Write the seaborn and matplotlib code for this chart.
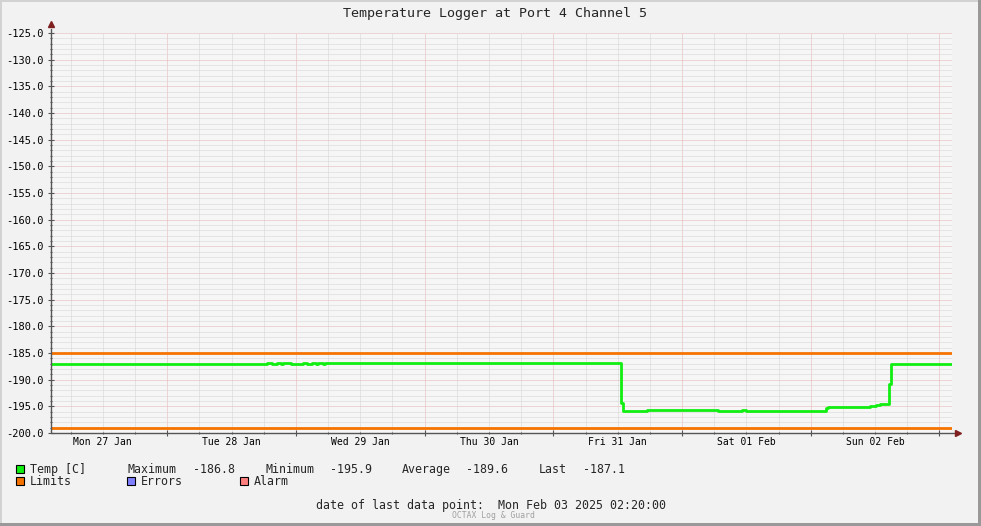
import pandas as pd
import matplotlib
matplotlib.use("Agg")
import matplotlib.pyplot as plt
import matplotlib.dates as mdates
from matplotlib.patches import Rectangle
from matplotlib.ticker import MultipleLocator, FuncFormatter, NullFormatter
import seaborn as sns

# data (hours after start, temperature in C)
start_time = "2025-01-27 02:20"
end_time = "2025-02-03 02:20"
hours = [0, 40.3, 41.2, 42.1, 42.9, 43.3, 44.8, 47.0, 47.7, 48.7, 49.4, 49.8,
         50.7, 51.1, 52.4, 106.2, 106.6, 111.1, 124.3, 128.8, 129.6, 144.5,
         144.9, 145.6, 152.7, 153.8, 154.6, 156.3, 156.6, 163.0, 168.0]
temp = [-187.0, -186.8, -187.0, -186.8, -187.0, -186.8, -187.0, -186.8,
        -187.0, -186.8, -187.0, -186.8, -187.0, -186.8, -186.9, -194.3,
        -195.9, -195.7, -195.9, -195.7, -195.9, -195.4, -195.1, -195.2,
        -195.0, -194.8, -194.5, -190.9, -187.1, -187.0, -187.0]
limits = [-185.0, -199.0]

stats_names = ["Maximum", "Minimum", "Average", "Last"]
stats_values = ["-186.8", "-195.9", "-189.6", "-187.1"]

W, H = 981, 526
GREEN = "#11ee11"
ORANGE = "#f57300"

start = pd.Timestamp(start_time)
df = pd.DataFrame({"time": start + pd.to_timedelta(hours, unit="h"), "temp": temp})

sns.set_theme(style="white")
plt.rcParams["font.family"] = ["DejaVu Sans Mono", "DejaVu Sans"]

fig = plt.figure(figsize=(W / 100, H / 100), dpi=100, facecolor="#f2f2f2")
ax = fig.add_axes([51 / W, 93 / H, 901 / W, 400 / H])
ax.set_facecolor("#f6f6f6")


def fx(x):
    return x / W


def fy(y):
    return 1 - y / H


# grid
ax.yaxis.set_major_locator(MultipleLocator(5))
ax.yaxis.set_minor_locator(MultipleLocator(1))
ax.xaxis.set_major_locator(mdates.HourLocator(byhour=0))
ax.xaxis.set_minor_locator(mdates.HourLocator(byhour=[6, 12, 18]))
ax.xaxis.set_major_formatter(NullFormatter())


def day_label(v, pos):
    d = mdates.num2date(v)
    return d.strftime("%a %d %b") if d.hour == 12 else ""


ax.xaxis.set_minor_formatter(FuncFormatter(day_label))
ax.yaxis.set_major_formatter(FuncFormatter(lambda v, p: f"{v:.1f}"))

ax.grid(which="minor", color="#d4d4d4", linestyle=(0, (1, 1)), linewidth=0.72)
ax.grid(which="major", color="#e6b4b4", linestyle=(0, (1, 1)), linewidth=0.72)
ax.set_axisbelow(True)

# series
sns.lineplot(data=df, x="time", y="temp", ax=ax, color=GREEN, linewidth=2,
             drawstyle="steps-post", estimator=None, legend=False)
for lim in limits:
    ax.axhline(lim, color=ORANGE, linewidth=2)

ax.set_xlim(start, pd.Timestamp(end_time))
ax.set_ylim(-200, -125)
ax.set_xlabel("")
ax.set_ylabel("")

for s in ax.spines.values():
    s.set_visible(False)
ax.tick_params(axis="both", which="both", colors="#555555", labelcolor="black",
               direction="inout", labelsize=7)
ax.tick_params(axis="y", which="major", length=4, width=0.8, pad=3, labelsize=7.5)
ax.tick_params(axis="y", which="minor", length=2, width=0.8)
ax.tick_params(axis="x", which="major", length=4, width=0.8)
ax.tick_params(axis="x", which="minor", length=2, width=0.8, pad=2)
ax.tick_params(left=True, bottom=True, which="both")

# axis lines with arrows
ax.plot([0, 0], [0, 1 + 4 / 400], transform=ax.transAxes, color="#555555",
        lw=1, clip_on=False)
ax.plot([0, 1 + 3 / 901], [0, 0], transform=ax.transAxes, color="#555555",
        lw=1, clip_on=False)
ax.plot([0], [1 + 9 / 400], marker="^", ms=5, color="#7f1f1f",
        transform=ax.transAxes, clip_on=False)
ax.plot([1 + 6 / 901], [0], marker=">", ms=5, color="#7f1f1f",
        transform=ax.transAxes, clip_on=False)

# title
fig.text(fx(495), fy(13), "Temperature Logger at Port 4 Channel 5",
         ha="center", va="center", fontsize=9.6)

# legend
def swatch(x, y, color):
    fig.add_artist(Rectangle((fx(x), fy(y + 8)), 8 / W, 8 / H, transform=fig.transFigure,
                             facecolor=color, edgecolor="black", linewidth=0.8))


swatch(16, 465, GREEN)
fig.text(fx(30), fy(469.5), "Temp [C]", va="center", fontsize=8.4)
name_x = [128, 265, 402, 539]
val_x = [193, 330, 466, 583]
for nx, vx, n, v in zip(name_x, val_x, stats_names, stats_values):
    fig.text(fx(nx), fy(469.5), n, va="center", fontsize=8.4)
    fig.text(fx(vx), fy(469.5), v, va="center", fontsize=8.4)

for sx, col, lab in [(16, ORANGE, "Limits"), (127, "#7f7fff", "Errors"), (240, "#ff7f7f", "Alarm")]:
    swatch(sx, 477, col)
    fig.text(fx(sx + 14), fy(481.5), lab, va="center", fontsize=8.4)

fig.text(fx(491), fy(506), "date of last data point:  Mon Feb 03 2025 02:20:00",
         ha="center", va="center", fontsize=8.4)
fig.text(fx(493), fy(515.5), "OCTAX Log & Guard", ha="center", va="center",
         fontsize=5.8, color="#a0a0a0")

# 3d frame
fig.add_artist(Rectangle((0, fy(2)), 1, 2 / H, transform=fig.transFigure, color="#d2d2d2", lw=0))
fig.add_artist(Rectangle((0, 0), 2 / W, 1, transform=fig.transFigure, color="#d2d2d2", lw=0))
fig.add_artist(Rectangle((0, 0), 1, 3 / H, transform=fig.transFigure, color="#999999", lw=0))
fig.add_artist(Rectangle((fx(W - 3), 0), 3 / W, 1, transform=fig.transFigure, color="#999999", lw=0))

fig.savefig("out.png", dpi=100, facecolor=fig.get_facecolor())
